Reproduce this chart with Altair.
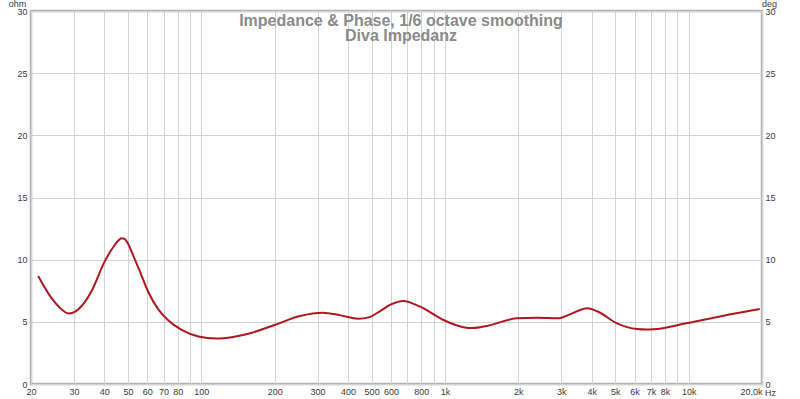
import altair as alt
import pandas as pd

# Impedance curve (Hz, ohm)
freq = [21.4, 24.3, 26.2, 28.5, 30.5, 33, 35.5, 40, 44.2, 46, 47.1, 48.3, 49.3, 53.4, 56.9,
        60.6, 66.6, 73.3, 83, 97.4, 115, 135, 158.6, 200, 254, 316, 372, 440, 490, 540, 600,
        674, 790, 986, 1190, 1300, 1488, 1966, 2378, 2900, 3270, 3834, 4218, 5080, 6130,
        6700, 7152, 9770, 13720, 19580]
imp = [8.69, 6.9, 6.15, 5.68, 5.85, 6.5, 7.5, 9.8, 11.2, 11.6, 11.72, 11.68, 11.5, 10.0, 8.7,
       7.4, 6.0, 5.1, 4.35, 3.82, 3.65, 3.78, 4.08, 4.75, 5.47, 5.74, 5.52, 5.25, 5.38, 5.85,
       6.4, 6.68, 6.22, 5.15, 4.57, 4.5, 4.67, 5.28, 5.33, 5.28, 5.62, 6.1, 5.85, 4.88, 4.42,
       4.38, 4.40, 4.88, 5.47, 6.03]

x_ticks = [20, 30, 40, 50, 60, 70, 80, 90, 100, 200, 300, 400, 500, 600, 700, 800, 900,
           1000, 2000, 3000, 4000, 5000, 6000, 7000, 8000, 9000, 10000, 20000]
x_labels = ["20", "30", "40", "50", "60", "70", "80", "", "100", "200", "300", "400", "500",
            "600", "", "800", "", "1k", "2k", "3k", "4k", "5k", "6k", "7k", "8k", "", "10k",
            "20,0k"]
y_ticks = [0, 5, 10, 15, 20, 25, 30]
title_lines = ["Impedance & Phase, 1/6 octave smoothing", "Diva Impedanz"]

df = pd.DataFrame({"freq": freq, "imp": imp})

label_expr = " : ".join(
    f"datum.value == {v} ? '{l}'" for v, l in zip(x_ticks, x_labels)
) + " : ''"

FONT = "Liberation Sans"
LABEL_COLOR = "#3a3a3a"
GRID = "#d2d2d2"

x_enc = alt.X(
    "freq:Q",
    scale=alt.Scale(type="log", domain=[20, 20000], nice=False),
    axis=alt.Axis(
        values=x_ticks, labelExpr=label_expr, grid=True, gridColor=GRID, gridWidth=1,
        domain=False, ticks=False, labelPadding=3, labelFontSize=9, labelFont=FONT,
        labelColor=LABEL_COLOR, labelOverlap=False, labelFlush=False,
        labelAlign={"condition": {"test": "datum.value == 20000", "value": "right"},
                    "value": "center"},
        title="Hz", titleX=739, titleY=11, titleAlign="center",
        titleBaseline="alphabetic", titleFontSize=9, titleFontWeight="normal",
        titleFont=FONT, titleColor=LABEL_COLOR,
    ),
)

y_scale = alt.Scale(domain=[0, 30], nice=False)

left = alt.Chart(df).mark_line(
    color="#b0161e", strokeWidth=2, interpolate="monotone"
).encode(
    x=x_enc,
    y=alt.Y(
        "imp:Q", scale=y_scale,
        axis=alt.Axis(
            values=y_ticks, grid=True, gridColor=GRID, gridWidth=1, domain=False,
            ticks=False, labelPadding=4, labelFontSize=9, labelFont=FONT,
            labelColor=LABEL_COLOR, labelFlush=False,
            title="ohm", titleAngle=0, titleX=-14, titleY=-5, titleAlign="center",
            titleBaseline="alphabetic", titleFontSize=9, titleFontWeight="normal",
            titleFont=FONT, titleColor=LABEL_COLOR,
        ),
    ),
)

right = alt.Chart(df).mark_line(opacity=0).encode(
    x=alt.X("freq:Q", scale=alt.Scale(type="log", domain=[20, 20000], nice=False)),
    y=alt.Y(
        "imp:Q", scale=y_scale,
        axis=alt.Axis(
            orient="right", values=y_ticks, grid=False, domain=False, ticks=False,
            labelPadding=3, labelFontSize=9, labelFont=FONT, labelColor=LABEL_COLOR,
            labelFlush=False, labelAlign="left",
            title="deg", titleAngle=0, titleX=7, titleY=-5, titleAlign="center",
            titleBaseline="alphabetic", titleFontSize=9, titleFontWeight="normal",
            titleFont=FONT, titleColor=LABEL_COLOR,
        ),
    ),
)

t1 = alt.Chart(alt.Data(values=[{"t": title_lines[0]}])).mark_text(
    font=FONT, fontSize=16, fontWeight="bold", color="#8a8a8a",
    align="center", baseline="alphabetic",
).encode(text="t:N", x=alt.value(370), y=alt.value(15))

t2 = alt.Chart(alt.Data(values=[{"t": title_lines[1]}])).mark_text(
    font=FONT, fontSize=16, fontWeight="bold", color="#8a8a8a",
    align="center", baseline="alphabetic",
).encode(text="t:N", x=alt.value(370), y=alt.value(30))

chart = alt.layer(left, right, t1, t2).resolve_scale(y="independent").properties(
    width=731, height=373,
    autosize="none",
    padding={"left": 31, "top": 11, "right": 38, "bottom": 15},
    background="white",
).configure_view(stroke="#b4b4b4", strokeWidth=2.5)

chart.save("out.html", embed_options={"renderer": "svg", "actions": False})
